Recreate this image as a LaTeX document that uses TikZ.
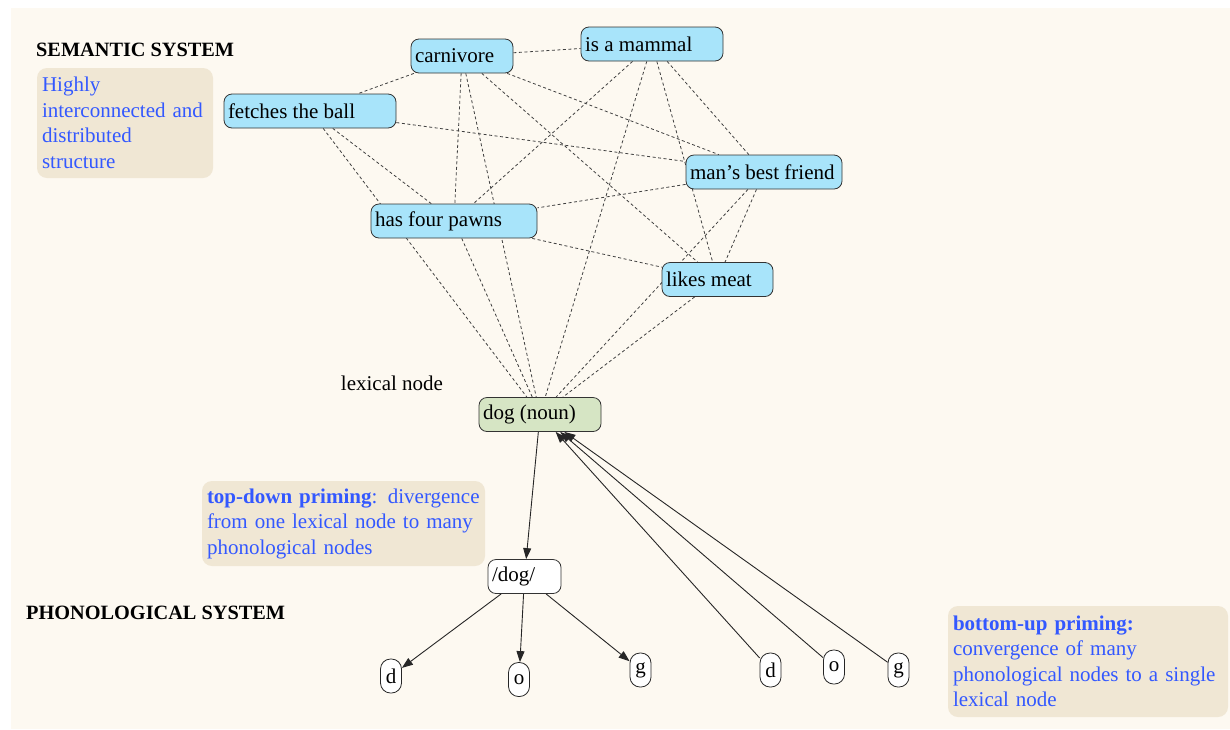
\documentclass[tikz,border=0pt]{standalone}
\usepackage{fontspec}
\setmainfont{Liberation Serif}
\usetikzlibrary{arrows.meta,backgrounds}
\definecolor{paper}{HTML}{FDF9F1}
\definecolor{semfill}{HTML}{A8E4FA}
\definecolor{lexfill}{HTML}{D6E5C4}
\definecolor{notefill}{HTML}{F0E7D4}
\definecolor{notetext}{HTML}{3358FF}
% left-aligned label inside a box of fixed width
\newcommand{\lbox}[2]{\makebox[#1][l]{#2}}
\begin{document}
\begin{tikzpicture}[x=1pt,y=-1pt,
  every node/.style={font=\fontsize{21}{25}\selectfont},
  sem/.style={draw=black!80, line width=0.8pt, fill=semfill, rounded corners=8pt,
    minimum height=34pt, inner xsep=4pt, inner ysep=0pt},
  lex/.style={sem, fill=lexfill},
  phon/.style={sem, fill=white},
  seg/.style={draw=black!85, line width=0.8pt, fill=white, rounded corners=10pt,
    minimum width=21pt, minimum height=34pt, inner sep=0pt},
  note/.style={fill=notefill, rounded corners=10pt, inner xsep=5pt, inner ysep=0pt,
    align=left, text=notetext, font=\fontsize{21}{25.5}\selectfont},
  link/.style={draw=black!75, line width=0.8pt, dash pattern=on 3pt off 2.5pt},
  prime/.style={draw=black!85, line width=0.9pt, -{Triangle[length=11pt,width=8pt]}},
  heading/.style={font=\fontsize{20.3}{24}\selectfont\bfseries, anchor=west, inner sep=0pt}
]
\useasboundingbox (0,0) rectangle (1230,729);

% semantic features
\node[sem] (carn)   at (462,56)      {\lbox{94pt}{carnivore}};
\node[sem] (mammal) at (652,44)      {\lbox{134pt}{is a mammal}};
\node[sem] (fetch)  at (310,111)     {\lbox{164pt}{fetches the ball}};
\node[sem] (friend) at (764,172)     {\lbox{148pt}{man’s best friend}};
\node[sem] (paws)   at (454,221)     {\lbox{158pt}{has four pawns}};
\node[sem] (meat)   at (717.5,279.5) {\lbox{103pt}{likes meat}};

% lexical and phonological level
\node[lex]  (dog)  at (540,414.5)   {\lbox{114pt}{dog (noun)}};
\node[phon] (phon) at (524.5,576.5) {\lbox{65pt}{/dog/}};
\node[seg] (d1) at (391,676) {d};
\node[seg] (o1) at (519,679.5) {o};
\node[seg] (g1) at (640.5,670) {g};
\node[seg] (d2) at (770.5,670) {d};
\node[seg] (o2) at (834,667) {o};
\node[seg] (g2) at (898.5,670) {g};

% labels and notes
\node[heading] (semhead) at (36,50) {SEMANTIC SYSTEM};
\node[heading] (phonhead) at (26,613) {PHONOLOGICAL SYSTEM};
\node (lexlabel) at (392,383) {lexical node};
\node[note, text width=166pt, minimum height=110pt] (semnote) at (125,123)
  {Highly\\interconnected and\\distributed\\structure};
\node[note, text width=273pt, minimum height=85pt] (topnote) at (343.5,523.5)
  {\textbf{top-down priming}: divergence\\from one lexical node to many\\phonological nodes};
\node[note, text width=270pt, minimum height=111pt] (botnote) at (1088,661.5)
  {\textbf{bottom-up priming:}\\convergence of many\\phonological nodes to a single\\lexical node};

\begin{pgfonlayer}{background}
  \fill[paper] (11,8) rectangle (1230,729);
  % associative links between features and the lexical node
  \draw[link] (carn) -- (mammal);
  \draw[link] (carn) -- (fetch);
  \draw[link] (carn) -- (paws);
  \draw[link] (carn) -- (dog);
  \draw[link] (carn) -- (meat);
  \draw[link] (carn) -- (friend);
  \draw[link] (mammal) -- (paws);
  \draw[link] (mammal) -- (dog);
  \draw[link] (mammal) -- (meat);
  \draw[link] (mammal) -- (friend);
  \draw[link] (fetch) -- (friend);
  \draw[link] (fetch) -- (paws);
  \draw[link] (fetch) -- (dog);
  \draw[link] (friend) -- (paws);
  \draw[link] (friend) -- (meat);
  \draw[link] (friend) -- (dog);
  \draw[link] (paws) -- (meat);
  \draw[link] (paws) -- (dog);
  \draw[link] (meat) -- (dog);
  % priming
  \draw[prime] (dog) -- (phon);
  \draw[prime] (phon) -- (d1);
  \draw[prime] (phon) -- (o1);
  \draw[prime] (phon) -- (g1);
  \draw[prime] (d2) -- (dog);
  \draw[prime] (o2) -- (dog);
  \draw[prime] (g2) -- (dog);
\end{pgfonlayer}
\end{tikzpicture}
\end{document}
